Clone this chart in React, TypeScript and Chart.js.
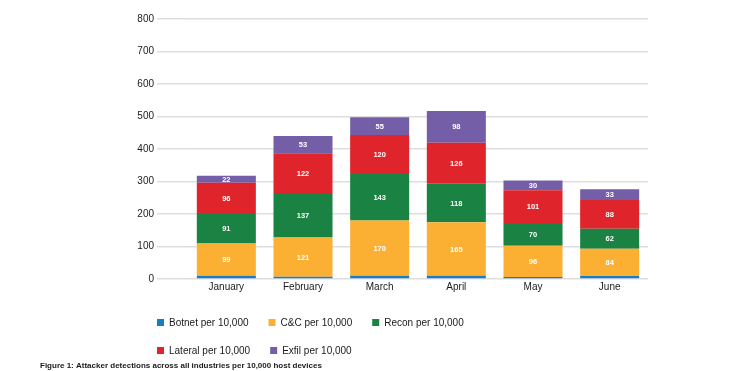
import React, { useEffect, useRef } from "react";
import { Chart, registerables } from "chart.js";

Chart.register(...registerables);

const categories = ["January", "February", "March", "April", "May", "June"];
const botnet = [10, 7, 10, 10, 6, 9];
const cnc = [99, 121, 170, 165, 96, 84];
const recon = [91, 137, 143, 118, 70, 62];
const lateral = [96, 122, 120, 126, 101, 88];
const exfil = [22, 53, 55, 98, 30, 33];
const seriesNames = [
  "Botnet per 10,000",
  "C&C per 10,000",
  "Recon per 10,000",
  "Lateral per 10,000",
  "Exfil per 10,000",
];
const seriesColors = ["#1a7dc0", "#fbb034", "#1a8243", "#df242b", "#755ea8"];
const captionText =
  "Figure 1: Attacker detections across all industries per 10,000 host devices";

const FONT = "'Liberation Sans', Arial, Helvetica, sans-serif";

const overlayPlugin = {
  id: "overlay",
  afterDatasetsDraw(chart: any) {
    const ctx = chart.ctx;
    ctx.save();
    ctx.font = `bold 7.5px ${FONT}`;
    ctx.fillStyle = "#ffffff";
    ctx.textAlign = "center";
    ctx.textBaseline = "middle";
    chart.data.datasets.forEach((ds: any, di: number) => {
      if (di === 0) return;
      const meta = chart.getDatasetMeta(di);
      meta.data.forEach((el: any, i: number) => {
        const p = el.getProps(["x", "y", "base"], true);
        ctx.fillText(String(ds.data[i]), p.x, (p.y + p.base) / 2 + 0.5);
      });
    });
    ctx.restore();
  },
  afterDraw(chart: any, _args: any, opts: any) {
    const ctx = chart.ctx;
    ctx.save();
    ctx.font = `10px ${FONT}`;
    ctx.textBaseline = "middle";
    ctx.textAlign = "left";
    const box = opts.boxSize;
    chart.data.datasets.forEach((ds: any, i: number) => {
      const row = Math.floor(i / opts.perRow);
      const col = i % opts.perRow;
      let x = opts.left;
      for (let k = row * opts.perRow; k < row * opts.perRow + col; k++) {
        x += box + opts.textGap + ctx.measureText(chart.data.datasets[k].label).width + opts.itemGap;
      }
      const top = opts.rowTops[row];
      ctx.fillStyle = ds.backgroundColor;
      ctx.fillRect(x, top, box, box);
      ctx.fillStyle = "#1a1a1a";
      ctx.fillText(ds.label, x + box + opts.textGap, top + box / 2 + 0.5);
    });
    ctx.font = `bold 8px ${FONT}`;
    ctx.fillStyle = "#1a1a1a";
    ctx.textBaseline = "alphabetic";
    ctx.fillText(opts.caption, opts.captionX, opts.captionY);
    ctx.restore();
  },
};

export default function App() {
  const ref = useRef<HTMLCanvasElement | null>(null);
  useEffect(() => {
    if (!ref.current) return;
    const values = [botnet, cnc, recon, lateral, exfil];
    const chart = new Chart(ref.current, {
      type: "bar",
      data: {
        labels: categories,
        datasets: values.map((v, i) => ({
          label: seriesNames[i],
          data: v,
          backgroundColor: seriesColors[i],
          borderWidth: 0,
          barPercentage: 0.77,
          categoryPercentage: 1,
        })),
      },
      options: {
        animation: false,
        responsive: true,
        maintainAspectRatio: false,
        layout: { padding: { left: 0, right: 92, top: 19, bottom: 72 } },
        plugins: {
          legend: { display: false },
          title: { display: false },
          tooltip: { enabled: false },
          overlay: {
            left: 157,
            rowTops: [319, 347],
            perRow: 3,
            boxSize: 7,
            textGap: 5,
            itemGap: 20,
            caption: captionText,
            captionX: 40,
            captionY: 368,
          },
        } as any,
        scales: {
          x: {
            stacked: true,
            grid: { display: false, drawTicks: false },
            border: { display: false },
            ticks: { color: "#1a1a1a", font: { family: FONT, size: 10 }, padding: 2 },
            afterFit: (s: any) => {
              s.height = 20;
            },
          },
          y: {
            stacked: true,
            min: 0,
            max: 800,
            ticks: {
              stepSize: 100,
              color: "#1a1a1a",
              font: { family: FONT, size: 10 },
              padding: 3,
            },
            grid: { color: "#dedede", lineWidth: 1.5, tickLength: 31, drawTicks: true },
            border: { display: false },
            afterFit: (s: any) => {
              s.width = 188;
            },
          },
        },
      },
      plugins: [overlayPlugin],
    });
    return () => chart.destroy();
  }, []);
  return (
    <div style={{ position: "absolute", left: 0, top: 0, width: 740, height: 371, background: "#fff" }}>
      <canvas ref={ref} />
    </div>
  );
}
